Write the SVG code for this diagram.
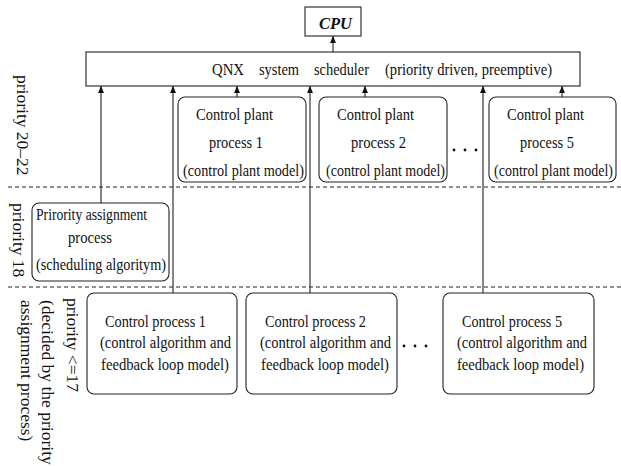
<svg xmlns="http://www.w3.org/2000/svg" width="621" height="466" viewBox="0 0 621 466">
<style>
text{font-family:"Liberation Serif","Times New Roman",serif;font-size:17.5px;fill:#111}
.box{fill:#fff;stroke:#222;stroke-width:1.1}
.rbox{fill:#fff;stroke:#222;stroke-width:1.1}
.ln{stroke:#222;stroke-width:1.1;fill:none}
.dash{stroke:#222;stroke-width:1;stroke-dasharray:4 3;fill:none}
.dot{fill:#111}
</style>
<defs>
<marker id="ah" markerWidth="7" markerHeight="6" refX="7" refY="3" orient="auto" markerUnits="userSpaceOnUse" viewBox="0 0 7 6">
<path d="M0,0 L7,3 L0,6 Z" fill="#111"/>
</marker>
</defs>
<rect width="621" height="466" fill="#fff"/>

<g id="dividers">
<line class="dash" x1="8" y1="187" x2="621" y2="187"/>
<line class="dash" x1="8" y1="287" x2="621" y2="287"/>
</g>

<g id="labels">
<text transform="translate(17,75) rotate(90)">priority 20–22</text>
<text transform="translate(12.5,203) rotate(90)">priority 18</text>
<text transform="translate(67,298) rotate(90)">priority &lt;=17</text>
<text transform="translate(42,300) rotate(90)">(decided by the priority</text>
<text transform="translate(21,300) rotate(90)">assignment process)</text>
</g>

<g id="connectors">
<line class="ln" x1="333" y1="52" x2="333" y2="36" marker-end="url(#ah)"/>
<line class="ln" x1="101" y1="203" x2="101" y2="86" marker-end="url(#ah)"/>
<line class="ln" x1="173" y1="293" x2="173" y2="86" marker-end="url(#ah)"/>
<line class="ln" x1="310" y1="293" x2="310" y2="86" marker-end="url(#ah)"/>
<line class="ln" x1="483" y1="293" x2="483" y2="86" marker-end="url(#ah)"/>
<line class="ln" x1="237" y1="97" x2="237" y2="86" marker-end="url(#ah)"/>
<line class="ln" x1="365" y1="97" x2="365" y2="86" marker-end="url(#ah)"/>
<line class="ln" x1="562" y1="97" x2="562" y2="86" marker-end="url(#ah)"/>
</g>

<g id="cpu">
<rect class="box" x="305" y="7" width="56" height="29"/>
<text x="319" y="29" font-weight="bold" font-style="italic" textLength="33" lengthAdjust="spacingAndGlyphs">CPU</text>
</g>

<g id="scheduler">
<rect class="box" x="86" y="52" width="494" height="34"/>
<text x="212" y="75" textLength="32" lengthAdjust="spacingAndGlyphs">QNX</text>
<text x="259" y="75" textLength="40" lengthAdjust="spacingAndGlyphs">system</text>
<text x="314" y="75" textLength="55" lengthAdjust="spacingAndGlyphs">scheduler</text>
<text x="385" y="75" textLength="167" lengthAdjust="spacingAndGlyphs">(priority driven, preemptive)</text>
</g>

<g id="plant1">
<rect class="rbox" x="178" y="97" width="128" height="85" rx="7"/>
<text x="196" y="120" textLength="77" lengthAdjust="spacingAndGlyphs">Control plant</text>
<text x="209" y="148" textLength="54" lengthAdjust="spacingAndGlyphs">process 1</text>
<text x="183" y="176" textLength="121" lengthAdjust="spacingAndGlyphs">(control plant model)</text>
</g>

<g id="plant2">
<rect class="rbox" x="319" y="97" width="128" height="85" rx="7"/>
<text x="337" y="120" textLength="77" lengthAdjust="spacingAndGlyphs">Control plant</text>
<text x="351" y="148" textLength="55" lengthAdjust="spacingAndGlyphs">process 2</text>
<text x="326" y="176" textLength="119" lengthAdjust="spacingAndGlyphs">(control plant model)</text>
</g>

<g id="plant-dots">
<circle class="dot" cx="454" cy="150" r="1.4"/>
<circle class="dot" cx="465" cy="150" r="1.4"/>
<circle class="dot" cx="476" cy="150" r="1.4"/>
</g>

<g id="plant5">
<rect class="rbox" x="489" y="97" width="127" height="85" rx="7"/>
<text x="507" y="120" textLength="77" lengthAdjust="spacingAndGlyphs">Control plant</text>
<text x="520" y="148" textLength="54" lengthAdjust="spacingAndGlyphs">process 5</text>
<text x="494" y="176" textLength="119" lengthAdjust="spacingAndGlyphs">(control plant model)</text>
</g>

<g id="priority-assignment">
<rect class="rbox" x="32" y="203" width="137" height="78" rx="7"/>
<text x="36" y="220" textLength="111" lengthAdjust="spacingAndGlyphs">Prirority assignment</text>
<text x="68" y="243" textLength="44" lengthAdjust="spacingAndGlyphs">process</text>
<text x="36" y="270" textLength="130" lengthAdjust="spacingAndGlyphs">(scheduling algoritym)</text>
</g>

<g id="control1">
<rect class="rbox" x="87" y="293" width="150" height="101" rx="7"/>
<text x="105" y="327" textLength="101" lengthAdjust="spacingAndGlyphs">Control process 1</text>
<text x="100" y="348" textLength="131" lengthAdjust="spacingAndGlyphs">(control algorithm and</text>
<text x="101" y="370" textLength="128" lengthAdjust="spacingAndGlyphs">feedback loop model)</text>
</g>

<g id="control2">
<rect class="rbox" x="246" y="293" width="151" height="101" rx="7"/>
<text x="265" y="327" textLength="101" lengthAdjust="spacingAndGlyphs">Control process 2</text>
<text x="260" y="348" textLength="131" lengthAdjust="spacingAndGlyphs">(control algorithm and</text>
<text x="261" y="370" textLength="128" lengthAdjust="spacingAndGlyphs">feedback loop model)</text>
</g>

<g id="control-dots">
<circle class="dot" cx="404" cy="346" r="1.4"/>
<circle class="dot" cx="415" cy="346" r="1.4"/>
<circle class="dot" cx="426" cy="346" r="1.4"/>
</g>

<g id="control5">
<rect class="rbox" x="443" y="293" width="151" height="101" rx="7"/>
<text x="462" y="327" textLength="100" lengthAdjust="spacingAndGlyphs">Control process 5</text>
<text x="457" y="348" textLength="130" lengthAdjust="spacingAndGlyphs">(control algorithm and</text>
<text x="457" y="370" textLength="127" lengthAdjust="spacingAndGlyphs">feedback loop model)</text>
</g>
</svg>
